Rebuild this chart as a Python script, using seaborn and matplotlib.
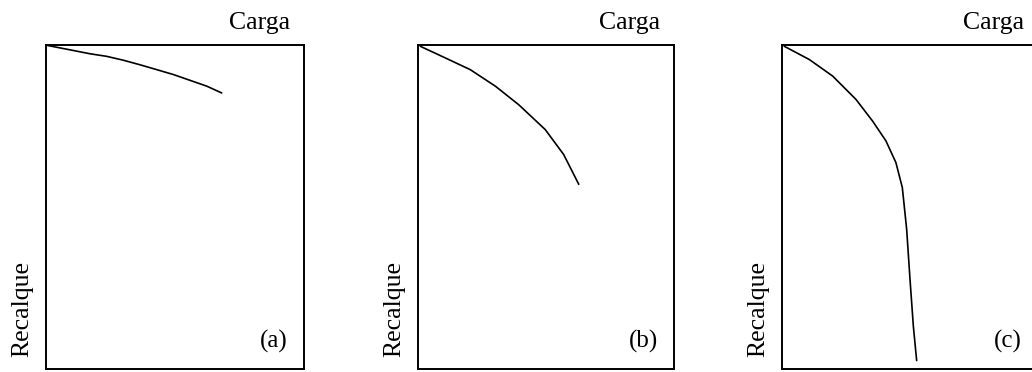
import matplotlib
matplotlib.use("Agg")
import matplotlib.pyplot as plt
import seaborn as sns
import pandas as pd

# Load-settlement curves (Carga vs Recalque), arbitrary units 0-100
carga_a = [0.3, 10.0, 17.0, 23.5, 30.0, 36.4, 42.9, 49.3, 55.8, 62.3, 68.1]
recalque_a = [0.1, 1.6, 2.7, 3.5, 4.7, 6.1, 7.6, 9.1, 10.9, 12.7, 14.8]

carga_b = [0.9, 10.7, 20.4, 30.2, 39.3, 49.7, 56.9, 62.8]
recalque_b = [0.4, 4.0, 7.6, 12.7, 18.4, 26.1, 33.8, 43.0]

carga_c = [0.9, 10.7, 19.8, 28.9, 35.4, 40.6, 44.5, 47.0, 48.7, 50.0, 51.3, 52.6]
recalque_c = [0.4, 4.5, 9.6, 16.8, 23.5, 29.6, 36.3, 44.0, 56.9, 72.3, 86.7, 97.4]

panel_tags = ["(a)", "(b)", "(c)"]
x_label = "Carga"
y_label = "Recalque"

sns.set_style("white")
plt.rcParams["font.family"] = ["Liberation Serif", "DejaVu Serif"]

W, H = 1032, 372
fig = plt.figure(figsize=(W / 100, H / 100), dpi=100)

# axes frames in pixel coordinates (left, right), shared top/bottom
frames = [(46, 304), (418, 674), (782, 1038)]
top_px, bottom_px = 45, 369

curves = [(carga_a, recalque_a), (carga_b, recalque_b), (carga_c, recalque_c)]

for (l, r), (cx, cy), tag in zip(frames, curves, panel_tags):
    ax = fig.add_axes([l / W, (H - bottom_px) / H, (r - l) / W, (bottom_px - top_px) / H])
    df = pd.DataFrame({"Carga": cx, "Recalque": cy})
    sns.lineplot(data=df, x="Carga", y="Recalque", sort=False, ax=ax,
                 color="black", linewidth=1.2)
    ax.set_xlim(0, 100)
    ax.set_ylim(100, 0)
    ax.set_xticks([])
    ax.set_yticks([])
    ax.set_xlabel("")
    ax.set_ylabel("")
    for sp in ax.spines.values():
        sp.set_color("black")
        sp.set_linewidth(1.4)

    ax.annotate(x_label, xy=(1, 1), xycoords="axes fraction",
                xytext=(-14, 16), textcoords="offset pixels",
                ha="right", va="baseline", fontsize=18.5, color="black",
                annotation_clip=False)
    ax.annotate(y_label, xy=(0, 0), xycoords="axes fraction",
                xytext=(-24, 12), textcoords="offset pixels",
                ha="center", va="bottom", rotation=90, fontsize=18.5,
                color="black", annotation_clip=False)
    ax.annotate(tag, xy=(1, 0), xycoords="axes fraction",
                xytext=(-16, 28), textcoords="offset pixels",
                ha="right", va="center", fontsize=18, color="black",
                annotation_clip=False)

fig.savefig("out.png", dpi=100, facecolor="white")
